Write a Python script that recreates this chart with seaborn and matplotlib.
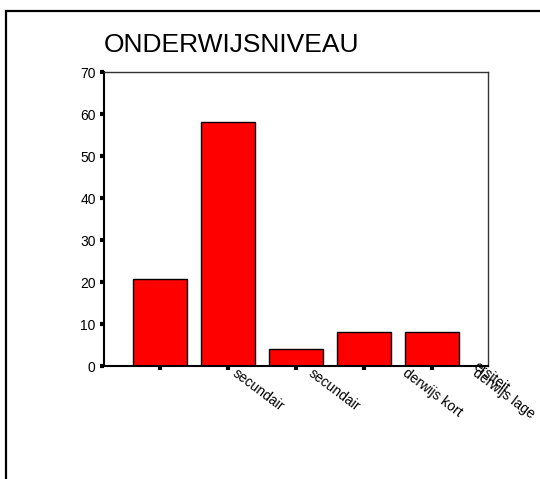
import numpy as np
import pandas as pd
import matplotlib
matplotlib.use("Agg")
import matplotlib.pyplot as plt
import matplotlib.transforms as mtransforms
from matplotlib.patches import Rectangle
import seaborn as sns

sns.set_style("white")
plt.rcParams['font.family'] = ['Liberation Sans', 'DejaVu Sans']
plt.rcParams['text.color'] = 'black'
plt.rcParams['xtick.color'] = 'black'
plt.rcParams['ytick.color'] = 'black'

# data (percentages)
niveau = ["1", "2", "3", "4", "5"]
procent = [20.8, 58.2, 4.1, 8.2, 8.2]
# visible (clipped) label fragments
labels = ["", "secundair", "secundair", "derwijs kort", "derwijs lage"]
extra_label = "ersiteit"

df = pd.DataFrame({"niveau": niveau, "procent": procent})

fig = plt.figure(figsize=(5.4, 4.79), dpi=100)
ax = fig.add_axes([104 / 540, 1 - 366 / 479, 384 / 540, 294 / 479])

sns.barplot(data=df, x="niveau", y="procent", color="#ff0000", saturation=1,
            edgecolor="black", linewidth=1, width=0.79, ax=ax)

ax.set_xlim(-0.82, 4.82)
ax.set_ylim(0, 70)
ax.set_yticks(range(0, 71, 10))
ax.set_xlabel("")
ax.set_ylabel("")

for side in ["left", "bottom"]:
    ax.spines[side].set_linewidth(1.5)
    ax.spines[side].set_color("black")
for side in ["top", "right"]:
    ax.spines[side].set_linewidth(1.0)
    ax.spines[side].set_color("#333333")
    ax.spines[side].set_visible(True)

ax.tick_params(axis="both", direction="out", length=3, width=3, color="black",
               labelcolor="black", labelsize=10, bottom=True, left=True)
ax.tick_params(axis="y", pad=3)
ax.tick_params(axis="x", pad=0)

ax.set_xticks(range(len(labels)))
ax.set_xticklabels(labels, rotation=-37, ha="left", va="top",
                   rotation_mode="anchor", fontsize=10)
offsets = [0, 10, 18, 44, 46]
for lab, dx in zip(ax.get_xticklabels(), offsets):
    lab.set_transform(lab.get_transform() +
                      mtransforms.ScaledTranslation(dx / 100, 4 / 100, fig.dpi_scale_trans))

ax.annotate(extra_label, xy=(4, 0), xycoords="data", xytext=(34, 5),
            textcoords="offset points", rotation=-37, ha="left", va="top",
            rotation_mode="anchor", fontsize=10, annotation_clip=False)

fig.text(104 / 540, 1 - 52 / 479, "ONDERWIJSNIVEAU", fontsize=19,
         ha="left", va="baseline", color="black")

# outer frame (only left and top edges visible)
frame = Rectangle((6 / 540, -0.1), 1.2, 1 - 11 / 479 + 0.1, transform=fig.transFigure,
                  fill=False, edgecolor="black", linewidth=1.6)
fig.patches.append(frame)

fig.savefig("out.png", dpi=100)
